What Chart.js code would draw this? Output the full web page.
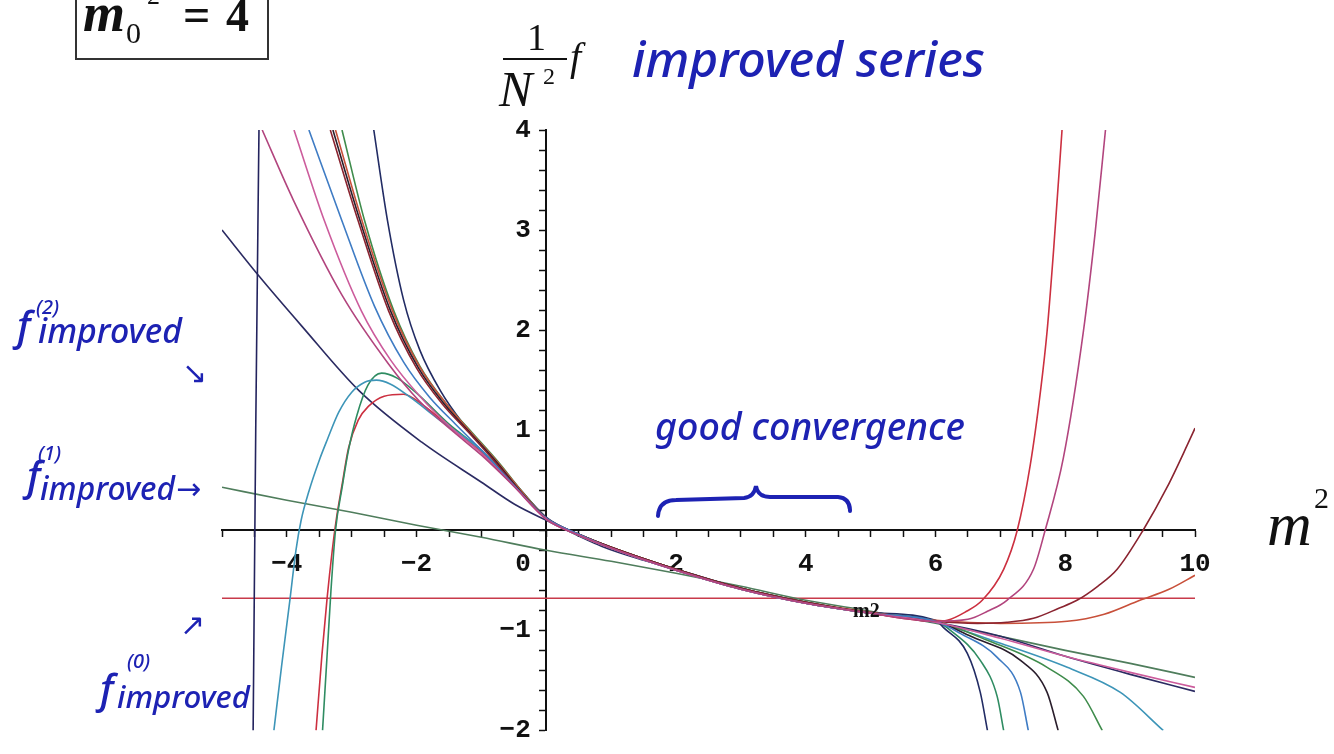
<!DOCTYPE html>
<html>
<head>
<meta charset="utf-8">
<title>improved series</title>
<script src="https://cdn.jsdelivr.net/npm/chart.js@4.4.0/dist/chart.umd.min.js"></script>
<style>
  html, body { margin: 0; padding: 0; background: #fff; }
  #wrap { position: relative; width: 1334px; height: 754px; overflow: hidden; }
  #wrap canvas { position: absolute; left: 0; top: 0; }
  .lbl { position: absolute; white-space: nowrap; margin: 0; padding: 0; line-height: normal; }
  .serif { font-family: "Liberation Serif", "DejaVu Serif", serif; color: #111; }
  .it { font-style: italic; }
  .b { font-weight: bold; }
  .ink { font-family: "Noto Sans", "DejaVu Sans", sans-serif; font-style: italic; font-weight: 500; color: #1d22b3; }
  .arrow { font-family: "DejaVu Sans", sans-serif; color: #1d22b3; }
  #box-m0 { position: absolute; left: 75px; top: -14px; width: 190px; height: 70px; border: 2px solid #333; }
  #frac-bar { position: absolute; left: 503px; top: 58px; width: 64px; height: 2px; background: #111; }
  #brace { position: absolute; left: 0; top: 0; }
</style>
</head>
<body>
<div id="wrap">
  <canvas id="grafico-serie"></canvas>

  <div id="box-m0"></div>
  <span class="lbl serif it b" data-x="83" data-base="31" data-size="54">m</span>
  <span class="lbl serif" data-x="126" data-base="43" data-size="30">0</span>
  <span class="lbl serif" data-x="147" data-base="4" data-size="26">2</span>
  <span class="lbl serif b" data-x="183" data-base="31" data-size="48">=</span>
  <span class="lbl serif b" data-x="226" data-base="31" data-size="46">4</span>

  <span class="lbl serif" data-x="527" data-base="50" data-size="38">1</span>
  <div id="frac-bar"></div>
  <span class="lbl serif it" data-x="499" data-base="106" data-size="50">N</span>
  <span class="lbl serif" data-x="543" data-base="84" data-size="24">2</span>
  <span class="lbl serif it" data-x="570" data-base="70" data-size="40">f</span>

  <span class="lbl ink" data-x="632" data-base="77" data-w="353">improved series</span>
  <span class="lbl ink" data-x="655" data-base="440" data-w="310">good convergence</span>

  <span class="lbl ink" data-x="17" data-base="340" data-size="40">f</span>
  <span class="lbl ink" data-x="36" data-base="314" data-size="20">(2)</span>
  <span class="lbl ink" data-x="38" data-base="343" data-w="144">improved</span>
  <span class="lbl arrow" data-x="182" data-base="383" data-size="30">↘</span>

  <span class="lbl ink" data-x="27" data-base="490" data-size="40">f</span>
  <span class="lbl ink" data-x="38" data-base="460" data-size="20">(1)</span>
  <span class="lbl ink" data-x="40" data-base="500" data-w="135">improved</span>
  <span class="lbl arrow" data-x="176" data-base="499" data-size="30">→</span>

  <span class="lbl arrow" data-x="180" data-base="635" data-size="30">↗</span>
  <span class="lbl ink" data-x="100" data-base="703" data-size="40">f</span>
  <span class="lbl ink" data-x="127" data-base="668" data-size="20">(0)</span>
  <span class="lbl ink" data-x="117" data-base="708" data-w="133">improved</span>

  <span class="lbl serif it" data-x="1267" data-base="545" data-size="62">m</span>
  <span class="lbl serif" data-x="1314" data-base="508" data-size="30">2</span>
  <span class="lbl serif b" data-x="853" data-base="617" data-size="20">m2</span>

  <svg id="brace" width="1334" height="754">
    <path d="M 658 516 Q 659 500 676 500 L 744 498 Q 754 497 756 486 Q 758 497 770 497 L 838 497 Q 850 498 850 511"
          fill="none" stroke="#1d22b3" stroke-width="4" stroke-linecap="round"/>
  </svg>
</div>

<script>
// tick labels shown on the axes
const xTickLabels = [-4, -2, 0, 2, 4, 6, 8, 10];
const yTickLabels = [-2, -1, 1, 2, 3, 4];

// approximants, points are [m2, f/N^2]
const fImproved0 = [[-5, -0.68], [10, -0.68]];
const fImproved1 = [[-5, 0.43], [-4, 0.30], [-3, 0.18], [-2, 0.05], [-1, -0.07], [0, -0.20], [1, -0.31], [2, -0.43], [3, -0.56], [4, -0.70], [5, -0.81], [6, -0.93], [7, -1.06], [8, -1.20], [9, -1.33], [10, -1.47]];
const fImproved2 = [[-5, 3.0], [-4.43, 2.54], [-3.77, 2.04], [-2.88, 1.39], [-1.92, 0.88], [-1, 0.48], [-0.49, 0.26], [0, 0.1], [0.85, -0.16], [1.5, -0.3], [2, -0.39], [3, -0.58], [4, -0.73], [5, -0.83], [6, -0.92], [7, -1.06], [8, -1.26], [9, -1.44], [10, -1.61]];
const poleBranch = [[-4.52, -2], [-4.48, 1], [-4.43, 4]];

const seriesMagenta = [[-4.38, 4], [-3.9, 3.3], [-3.15, 2.35], [-2.43, 1.66], [-1.97, 1.3], [-1.46, 1.0], [-1, 0.75], [-0.5, 0.44], [0, 0.11], [0.5, -0.05], [1, -0.18], [2, -0.4], [3, -0.59], [4, -0.73], [5, -0.83], [6, -0.91], [6.5, -0.89], [6.8, -0.81], [7.1, -0.7], [7.51, -0.39], [7.69, 0], [7.97, 0.72], [8.28, 1.99], [8.46, 2.97], [8.62, 4]];
const seriesPink = [[-3.89, 4], [-3.42, 3.09], [-2.85, 2.19], [-2.4, 1.7], [-1.95, 1.34], [-1.46, 1.02], [-1, 0.77], [-0.5, 0.44], [0, 0.11], [0.5, -0.05], [1, -0.18], [2, -0.4], [3, -0.59], [4, -0.73], [5, -0.83], [6, -0.92], [7, -1.08], [8, -1.26], [9, -1.42], [10, -1.57]];
const seriesBlue = [[-3.66, 4], [-3.15, 3.09], [-2.65, 2.24], [-2.2, 1.68], [-1.8, 1.33], [-1.4, 1.06], [-1, 0.8], [-0.5, 0.45], [0, 0.12], [0.5, -0.04], [1, -0.18], [2, -0.4], [3, -0.59], [4, -0.73], [5, -0.83], [6, -0.91], [6.38, -1.03], [6.95, -1.27], [7.31, -1.62], [7.43, -2]];
const seriesDarkRed = [[-3.33, 4], [-2.9, 3.09], [-2.43, 2.19], [-2.0, 1.62], [-1.6, 1.26], [-1.2, 0.98], [-0.8, 0.69], [-0.4, 0.38], [0, 0.12], [0.5, -0.04], [1, -0.17], [2, -0.39], [3, -0.58], [4, -0.72], [5, -0.83], [6, -0.91], [6.65, -0.93], [7.1, -0.92], [7.51, -0.88], [7.9, -0.78], [8.18, -0.7], [8.5, -0.56], [8.8, -0.39], [9.2, 0], [9.57, 0.43], [9.88, 0.85], [10, 1.02]];
const seriesBlack = [[-3.29, 4], [-2.87, 3.09], [-2.4, 2.19], [-1.97, 1.62], [-1.57, 1.26], [-1.17, 0.97], [-0.78, 0.69], [-0.39, 0.38], [0, 0.12], [0.5, -0.04], [1, -0.17], [2, -0.39], [3, -0.58], [4, -0.72], [5, -0.83], [6, -0.91], [6.58, -1.07], [7.31, -1.3], [7.72, -1.62], [7.89, -2]];
const seriesOrange = [[-3.25, 4], [-2.84, 3.09], [-2.37, 2.19], [-1.95, 1.63], [-1.55, 1.27], [-1.15, 0.97], [-0.75, 0.68], [-0.37, 0.38], [0, 0.12], [0.5, -0.04], [1, -0.17], [2, -0.39], [3, -0.58], [4, -0.72], [5, -0.82], [6, -0.9], [7, -0.93], [8.03, -0.91], [8.6, -0.84], [9.15, -0.7], [9.6, -0.59], [10, -0.45]];
const seriesGreen = [[-3.15, 4], [-2.8, 3.09], [-2.35, 2.19], [-1.95, 1.64], [-1.55, 1.27], [-1.15, 0.98], [-0.75, 0.69], [-0.35, 0.37], [0, 0.12], [0.5, -0.04], [1, -0.17], [2, -0.39], [3, -0.58], [4, -0.72], [5, -0.83], [6, -0.91], [6.8, -1.1], [7.72, -1.37], [8.28, -1.66], [8.57, -2]];
const seriesNavy = [[-2.66, 4], [-2.45, 3.1], [-2.2, 2.3], [-1.95, 1.8], [-1.62, 1.38], [-1.3, 1.08], [-1, 0.85], [-0.5, 0.48], [0, 0.13], [0.5, -0.04], [1, -0.17], [2, -0.39], [3, -0.58], [4, -0.72], [5, -0.82], [6, -0.9], [6.12, -0.97], [6.49, -1.23], [6.69, -1.62], [6.8, -2]];
const seriesTeal = [[-4.2, -2], [-4.08, -1.35], [-3.95, -0.68], [-3.86, -0.2], [-3.78, 0.1], [-3.66, 0.39], [-3.5, 0.7], [-3.38, 0.9], [-3.2, 1.18], [-3.0, 1.38], [-2.8, 1.48], [-2.62, 1.5], [-2.4, 1.46], [-2.1, 1.33], [-1.6, 1.08], [-1, 0.8], [-0.5, 0.45], [0, 0.12], [0.5, -0.05], [1, -0.18], [2, -0.4], [3, -0.59], [4, -0.73], [5, -0.83], [6, -0.92], [7, -1.13], [8.03, -1.37], [8.85, -1.62], [9.51, -2]];
const seriesSeaGreen = [[-3.45, -2], [-3.38, -1.25], [-3.32, -0.6], [-3.25, 0], [-3.15, 0.42], [-3.05, 0.8], [-2.92, 1.15], [-2.75, 1.45], [-2.54, 1.57], [-2.3, 1.52], [-2, 1.37], [-1.5, 1.06], [-1, 0.8], [-0.5, 0.46], [0, 0.12], [0.5, -0.05], [1, -0.18], [2, -0.4], [3, -0.59], [4, -0.73], [5, -0.83], [6, -0.91], [6.23, -1.0], [6.69, -1.3], [6.95, -1.66], [7.05, -2]];
const seriesRed = [[-3.55, -2], [-3.46, -1.25], [-3.38, -0.68], [-3.3, -0.2], [-3.24, 0.1], [-3.15, 0.45], [-3.05, 0.82], [-2.9, 1.1], [-2.74, 1.24], [-2.5, 1.34], [-2.2, 1.36], [-1.9, 1.25], [-1.5, 1.04], [-1, 0.78], [-0.5, 0.45], [0, 0.12], [0.5, -0.05], [1, -0.18], [2, -0.4], [3, -0.59], [4, -0.73], [5, -0.83], [6, -0.91], [6.18, -0.9], [6.45, -0.82], [6.72, -0.7], [7.05, -0.39], [7.26, 0], [7.46, 0.65], [7.62, 1.4], [7.72, 1.99], [7.82, 2.8], [7.95, 4]];

function toPoints(arr) {
    return arr.map(p => ({ x: p[0], y: p[1] }));
}

function curve(label, arr, color) {
    return {
        label: label,
        data: toPoints(arr),
        borderColor: color,
        borderWidth: 1.6,
        showLine: true,
        pointRadius: 0,
        fill: false,
        cubicInterpolationMode: 'monotone'
    };
}

function isWhole(v) {
    return Math.abs(v - Math.round(v)) < 1e-6;
}

function tickText(v) {
    const r = Math.round(v);
    if (r === 0) return '0   ';
    return r < 0 ? '\u2212' + Math.abs(r) : String(r);
}

const tickFont = { family: 'Liberation Mono', size: 26, weight: 'bold' };

document.addEventListener('DOMContentLoaded', function() {
    const ctx = document.getElementById('grafico-serie').getContext('2d');
    var chart = new Chart(ctx, {
        type: 'scatter',
        data: {
            datasets: [
                curve('pole', poleBranch, '#23235e'),
                curve('magenta', seriesMagenta, '#b2457e'),
                curve('pink', seriesPink, '#cc5c9c'),
                curve('blue', seriesBlue, '#3f7cc4'),
                curve('dark red', seriesDarkRed, '#8a2430'),
                curve('black', seriesBlack, '#2a1e2c'),
                curve('orange', seriesOrange, '#c8503a'),
                curve('green', seriesGreen, '#3f8c4c'),
                curve('navy', seriesNavy, '#222c64'),
                curve('teal', seriesTeal, '#3d95b8'),
                curve('sea green', seriesSeaGreen, '#2f8c62'),
                curve('red', seriesRed, '#cc3040'),
                curve('f2', fImproved2, '#2b2b62'),
                curve('f1', fImproved1, '#4f7d5c'),
                curve('f0', fImproved0, '#c83a4a')
            ]
        },
        options: {
            responsive: true,
            maintainAspectRatio: false,
            animation: false,
            events: [],
            layout: {
                autoPadding: false,
                padding: { left: 222, right: 139, top: 130, bottom: 12 }
            },
            plugins: {
                legend: { display: false },
                tooltip: { enabled: false }
            },
            scales: {
                x: {
                    type: 'linear',
                    min: -5,
                    max: 10,
                    position: { y: 0 },
                    afterFit: function(scale) { scale.height = 0; },
                    border: { display: true, color: '#111', width: 2 },
                    grid: { drawOnChartArea: false, drawTicks: true, tickLength: 6, tickColor: '#111', tickWidth: 1.5 },
                    ticks: {
                        stepSize: 0.5,
                        autoSkip: false,
                        maxRotation: 0,
                        padding: 13,
                        color: '#111',
                        font: tickFont,
                        callback: function(value) {
                            if (isWhole(value) && xTickLabels.indexOf(Math.round(value)) !== -1) {
                                return tickText(value);
                            }
                            return '';
                        }
                    }
                },
                y: {
                    type: 'linear',
                    min: -2,
                    max: 4,
                    position: { x: 0 },
                    afterFit: function(scale) { scale.width = 0; },
                    border: { display: true, color: '#111', width: 2 },
                    grid: { drawOnChartArea: false, drawTicks: true, tickLength: 6, tickColor: '#111', tickWidth: 1.5 },
                    ticks: {
                        stepSize: 0.2,
                        autoSkip: false,
                        padding: 8,
                        color: '#111',
                        font: tickFont,
                        callback: function(value) {
                            if (isWhole(value) && yTickLabels.indexOf(Math.round(value)) !== -1) {
                                return tickText(value) + ' ';
                            }
                            return '';
                        }
                    }
                }
            }
        }
    });

    // place the text notes by their baseline
    document.fonts.ready.then(function() {
        document.querySelectorAll('.lbl').forEach(function(el) {
            el.style.left = el.dataset.x + 'px';
            if (el.dataset.w) {
                el.style.fontSize = '100px';
                const w = el.getBoundingClientRect().width;
                el.style.fontSize = (100 * parseFloat(el.dataset.w) / w) + 'px';
            } else {
                el.style.fontSize = el.dataset.size + 'px';
            }
            const mark = document.createElement('span');
            mark.style.display = 'inline-block';
            mark.style.width = '0';
            mark.style.height = '0';
            mark.style.verticalAlign = 'baseline';
            el.appendChild(mark);
            el.style.top = '0px';
            const off = mark.getBoundingClientRect().top - el.getBoundingClientRect().top;
            el.style.top = (parseFloat(el.dataset.base) - off) + 'px';
        });
    });
});
</script>
</body>
</html>
